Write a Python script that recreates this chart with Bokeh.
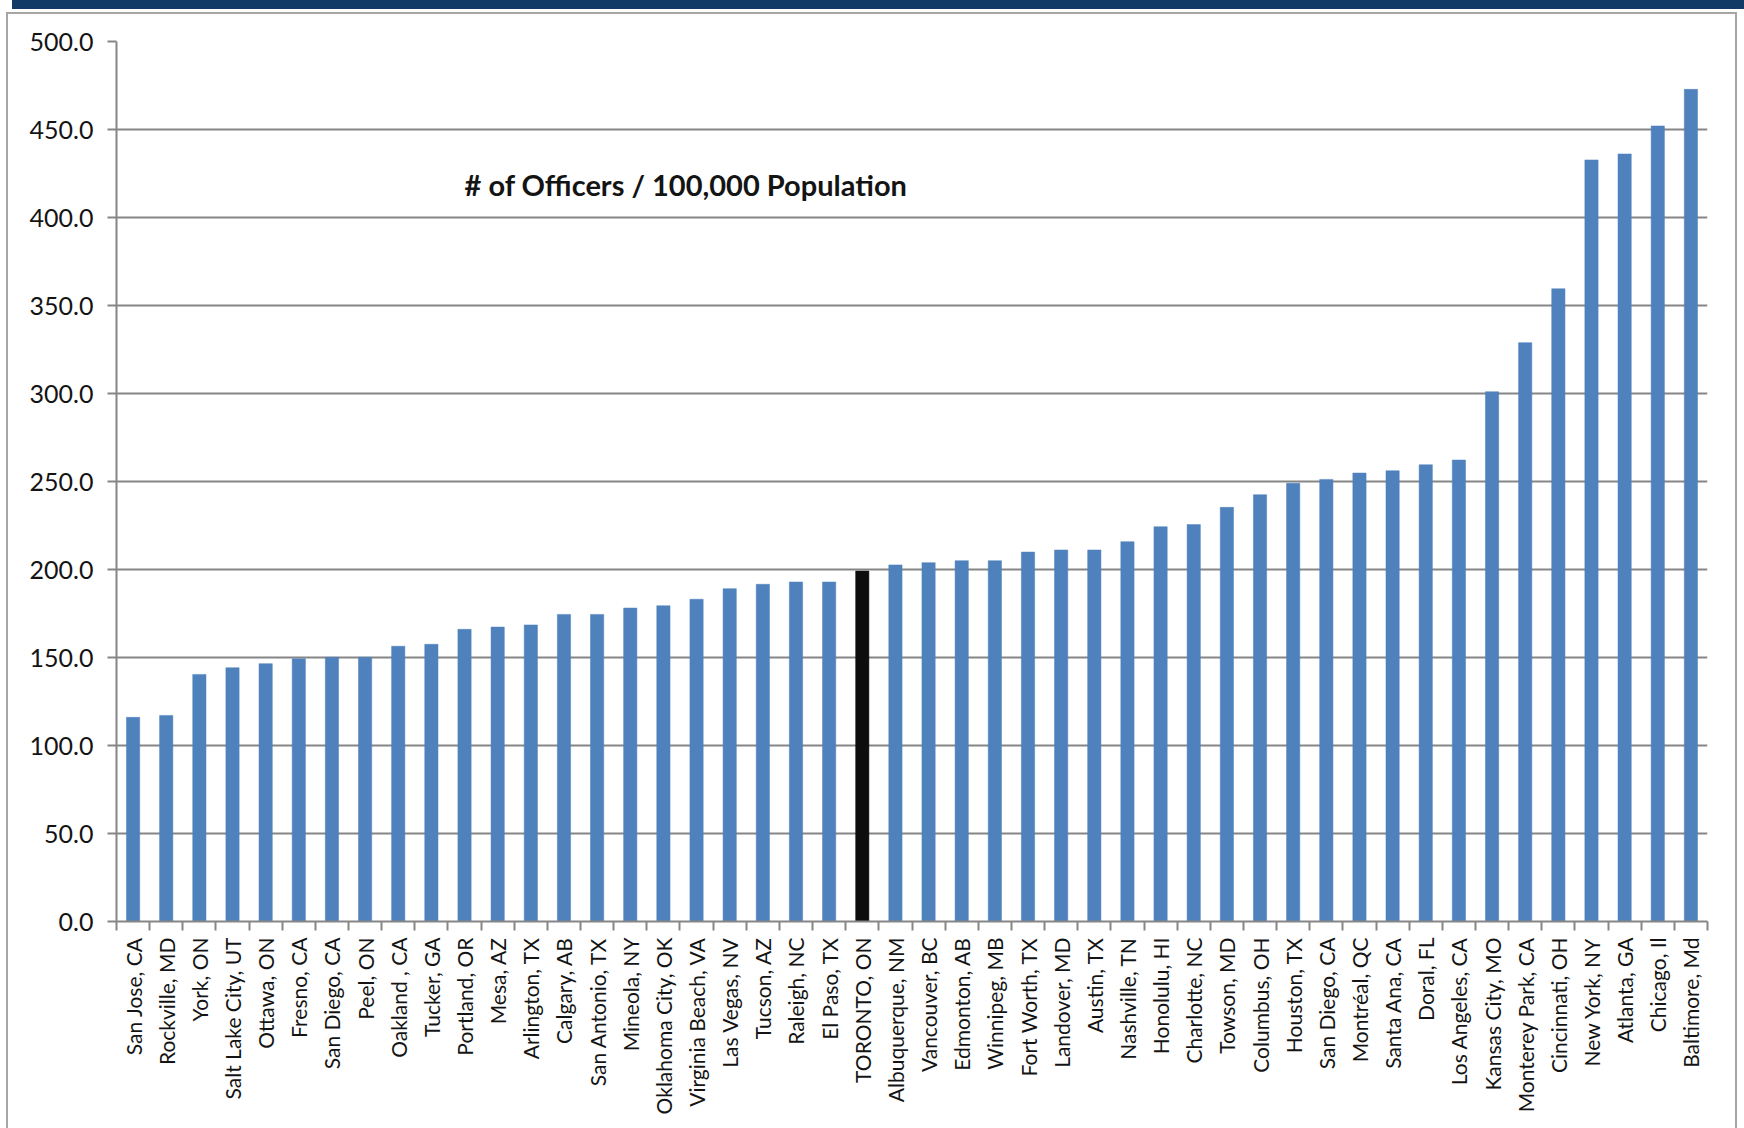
import math

from bokeh.plotting import figure
from bokeh.models import (ColumnDataSource, Range1d, FixedTicker, NumeralTickFormatter,
                          Label, InlineStyleSheet)
from bokeh.embed import file_html
from bokeh.resources import INLINE

# Police officers per 100,000 residents, sorted ascending
cities = [
    "San Jose, CA", "Rockville, MD", "York, ON", "Salt Lake City, UT", "Ottawa, ON",
    "Fresno, CA", "San Diego, CA", "Peel, ON", "Oakland , CA", "Tucker, GA",
    "Portland, OR", "Mesa, AZ", "Arlington, TX", "Calgary, AB", "San Antonio, TX",
    "Mineola, NY", "Oklahoma City, OK", "Virginia Beach, VA", "Las Vegas, NV", "Tucson, AZ",
    "Raleigh, NC", "El Paso, TX", "TORONTO, ON", "Albuquerque, NM", "Vancouver, BC",
    "Edmonton, AB", "Winnipeg, MB", "Fort Worth, TX", "Landover, MD", "Austin, TX",
    "Nashville, TN", "Honolulu, HI", "Charlotte, NC", "Towson, MD", "Columbus, OH",
    "Houston, TX", "San Diego, CA", "Montréal, QC", "Santa Ana, CA", "Doral, FL",
    "Los Angeles, CA", "Kansas City, MO", "Monterey Park, CA", "Cincinnati, OH", "New York, NY",
    "Atlanta, GA", "Chicago, Il", "Baltimore, Md",
]
officers_per_100k = [
    116.0, 117.1, 140.4, 144.2, 146.5,
    149.3, 150.1, 150.1, 156.4, 157.5,
    166.0, 167.3, 168.5, 174.5, 174.5,
    178.1, 179.4, 183.1, 189.1, 191.6,
    192.9, 192.9, 199.1, 202.6, 203.9,
    205.0, 205.0, 209.9, 211.1, 211.1,
    215.8, 224.3, 225.5, 235.3, 242.5,
    249.0, 251.2, 254.8, 256.1, 259.5,
    262.2, 301.0, 328.9, 359.5, 432.7,
    436.1, 452.0, 472.8,
]
highlight_city = "TORONTO, ON"
y_ticks = [0, 50, 100, 150, 200, 250, 300, 350, 400, 450, 500]
chart_title = "# of Officers / 100,000 Population"

BLUE = "#4f81bd"
HIGHLIGHT = "#0d0d0d"
GRID = "#868686"
FONT = "Lato"

positions = list(range(len(cities)))
colors = [HIGHLIGHT if c == highlight_city else BLUE for c in cities]
source = ColumnDataSource(data=dict(x=positions, top=officers_per_100k, color=colors))

p = figure(
    width=1744, height=1128,
    x_range=Range1d(-0.5, len(cities) - 0.5),
    y_range=Range1d(0, 500),
    output_backend="svg", toolbar_location=None,
    min_border_left=116, min_border_right=37,
    min_border_top=41, min_border_bottom=207,
    background_fill_color="white", border_fill_color="white",
)
p.outline_line_color = None

p.vbar(x="x", top="top", width=0.4, source=source,
       fill_color="color", line_color="color", line_width=0.5)

# y axis
yaxis = p.yaxis[0]
yaxis.ticker = FixedTicker(ticks=y_ticks)
yaxis.formatter = NumeralTickFormatter(format="0.0")
yaxis.axis_line_color = GRID
yaxis.axis_line_width = 2
yaxis.major_tick_line_color = GRID
yaxis.major_tick_line_width = 2
yaxis.major_tick_out = 9
yaxis.major_tick_in = 0
yaxis.minor_tick_line_color = None
yaxis.major_label_standoff = 14
yaxis.major_label_text_font = FONT
yaxis.major_label_text_font_size = "25px"
yaxis.major_label_text_color = "#141414"

# x axis: labels at bar centres, tick marks between categories
xaxis = p.xaxis[0]
xaxis.ticker = FixedTicker(ticks=positions,
                           minor_ticks=[i - 0.5 for i in range(len(cities) + 1)])
xaxis.major_label_overrides = {i: c for i, c in enumerate(cities)}
xaxis.major_label_orientation = math.pi / 2
xaxis.major_tick_line_color = None
xaxis.major_tick_out = 0
xaxis.major_tick_in = 0
xaxis.minor_tick_line_color = GRID
xaxis.minor_tick_line_width = 2
xaxis.minor_tick_out = 9
xaxis.minor_tick_in = 0
xaxis.axis_line_color = GRID
xaxis.axis_line_width = 2
xaxis.major_label_standoff = 7
xaxis.major_label_text_font = FONT
xaxis.major_label_text_font_size = "21px"
xaxis.major_label_text_color = "#141414"

p.xgrid.grid_line_color = None
p.ygrid.ticker = FixedTicker(ticks=y_ticks)
p.ygrid.grid_line_color = GRID
p.ygrid.grid_line_width = 2

p.add_layout(Label(x=10.0, y=419, text=chart_title, text_font=FONT,
                   text_font_style="bold", text_font_size="29px",
                   text_color="#141414", text_baseline="middle", text_align="left"))

# outer chart border and the dark header band above it
p.stylesheets = [InlineStyleSheet(css="""
:host { position: relative; }
:host::before {
  content: ""; position: absolute; left: 12px; top: 0px; width: 1732px; height: 9px;
  background: #123a66; z-index: 20; pointer-events: none;
}
:host::after {
  content: ""; position: absolute; left: 6px; top: 12px; width: 1731px; height: 1116px;
  border: 2px solid #a6a6a6; border-bottom: none; box-sizing: border-box;
  z-index: 20; pointer-events: none;
}
""")]

open("out.html", "w").write(file_html(p, INLINE))
